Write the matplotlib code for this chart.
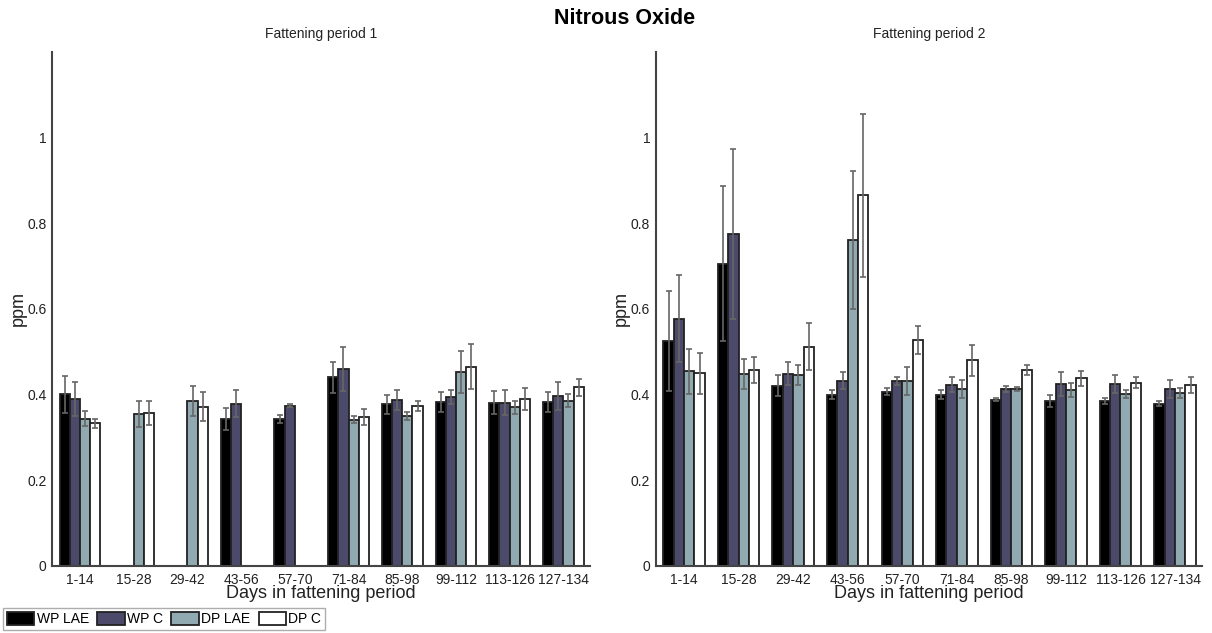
import numpy as np
import matplotlib
matplotlib.use("Agg")
from matplotlib import pyplot as plt

plt.rcParams['font.family'] = ['Liberation Sans', 'DejaVu Sans']

# day ranges of the fattening period
days = ['1-14', '15-28', '29-42', '43-56', '57-70', '71-84',
        '85-98', '99-112', '113-126', '127-134']
groups = ['WP LAE', 'WP C', 'DP LAE', 'DP C']
colors = ['#000000', '#4b4a6a', '#91aab2', '#ffffff']

# fattening period 1 (nan = not measured)
p1_wp_lae = [0.401, np.nan, np.nan, 0.343, 0.343, 0.440, 0.377, 0.382, 0.381, 0.383]
p1_wp_c = [0.389, np.nan, np.nan, 0.379, 0.374, 0.460, 0.387, 0.394, 0.381, 0.396]
p1_dp_lae = [0.344, 0.355, 0.386, np.nan, np.nan, 0.341, 0.350, 0.452, 0.370, 0.386]
p1_dp_c = [0.333, 0.357, 0.372, np.nan, np.nan, 0.348, 0.373, 0.465, 0.389, 0.417]
p1_wp_lae_err = [0.043, np.nan, np.nan, 0.026, 0.009, 0.036, 0.023, 0.023, 0.027, 0.024]
p1_wp_c_err = [0.040, np.nan, np.nan, 0.031, 0.003, 0.051, 0.023, 0.017, 0.029, 0.033]
p1_dp_lae_err = [0.017, 0.031, 0.035, np.nan, np.nan, 0.008, 0.010, 0.049, 0.015, 0.016]
p1_dp_c_err = [0.011, 0.029, 0.034, np.nan, np.nan, 0.018, 0.011, 0.052, 0.026, 0.020]

# fattening period 2
p2_wp_lae = [0.525, 0.706, 0.421, 0.400, 0.407, 0.400, 0.388, 0.386, 0.386, 0.379]
p2_wp_c = [0.577, 0.775, 0.449, 0.432, 0.432, 0.423, 0.413, 0.424, 0.425, 0.412]
p2_dp_lae = [0.454, 0.448, 0.446, 0.761, 0.432, 0.414, 0.413, 0.411, 0.401, 0.404]
p2_dp_c = [0.450, 0.458, 0.512, 0.865, 0.528, 0.480, 0.458, 0.438, 0.428, 0.422]
p2_wp_lae_err = [0.116, 0.181, 0.025, 0.010, 0.009, 0.011, 0.003, 0.014, 0.007, 0.005]
p2_wp_c_err = [0.101, 0.199, 0.027, 0.020, 0.009, 0.018, 0.008, 0.028, 0.021, 0.021]
p2_dp_lae_err = [0.052, 0.036, 0.024, 0.162, 0.033, 0.021, 0.004, 0.016, 0.010, 0.011]
p2_dp_c_err = [0.048, 0.030, 0.055, 0.191, 0.033, 0.036, 0.012, 0.018, 0.012, 0.018]

period1 = [(p1_wp_lae, p1_wp_lae_err), (p1_wp_c, p1_wp_c_err),
           (p1_dp_lae, p1_dp_lae_err), (p1_dp_c, p1_dp_c_err)]
period2 = [(p2_wp_lae, p2_wp_lae_err), (p2_wp_c, p2_wp_c_err),
           (p2_dp_lae, p2_dp_lae_err), (p2_dp_c, p2_dp_c_err)]

fig = plt.figure(figsize=(12.12, 6.33), dpi=100)
ax1 = fig.add_axes([0.043, 0.106, 0.444, 0.812])
ax2 = fig.add_axes([0.541, 0.106, 0.451, 0.812])

x = np.arange(len(days))
w = 0.19


def draw(ax, data, title, ylab_x):
    bars = []
    for i, (vals, errs) in enumerate(data):
        pos = x + (i - 1.5) * w
        b = ax.bar(pos, vals, w, color=colors[i], edgecolor='#222222',
                   linewidth=1.3, label=groups[i], zorder=2)
        ax.errorbar(pos, vals, yerr=errs, fmt='none', ecolor='#666666',
                    elinewidth=1.2, capsize=2.5, capthick=1.2, zorder=3)
        bars.append(b)
    ax.set_xlim(-0.52, len(days) - 0.5)
    ax.set_ylim(0, 1.2)
    ax.set_yticks([0, 0.2, 0.4, 0.6, 0.8, 1])
    ax.set_yticklabels(['0', '0.2', '0.4', '0.6', '0.8', '1'])
    ax.set_xticks(x)
    ax.set_xticklabels(days)
    ax.tick_params(length=0, labelsize=10, colors='#222222')
    ax.tick_params(axis='x', pad=5)
    ax.tick_params(axis='y', pad=4)
    for s in ['top', 'right']:
        ax.spines[s].set_visible(False)
    for s in ['left', 'bottom']:
        ax.spines[s].set_linewidth(1.5)
        ax.spines[s].set_color('#444444')
    ax.set_xlabel('Days in fattening period', fontsize=13, labelpad=-1, color='#222222')
    ax.set_ylabel('ppm', fontsize=13, color='#222222')
    ax.yaxis.set_label_coords(ylab_x, 0.5)
    ax.set_title(title, fontsize=10, pad=10, color='#222222')
    return bars


bars = draw(ax1, period1, 'Fattening period 1', -0.047)
draw(ax2, period2, 'Fattening period 2', -0.047)

fig.suptitle('Nitrous Oxide', fontsize=15.5, fontweight='bold', x=0.515, y=0.988)

fig.legend(handles=bars, labels=groups, loc='lower left', ncol=4,
           bbox_to_anchor=(0.0, 0.0), fontsize=10, frameon=True, fancybox=False,
           edgecolor='#999999', handlelength=2.0, handleheight=1.1,
           handletextpad=0.15, columnspacing=0.6, borderpad=0.28,
           borderaxespad=0.2)

plt.savefig('out.png', dpi=100)
